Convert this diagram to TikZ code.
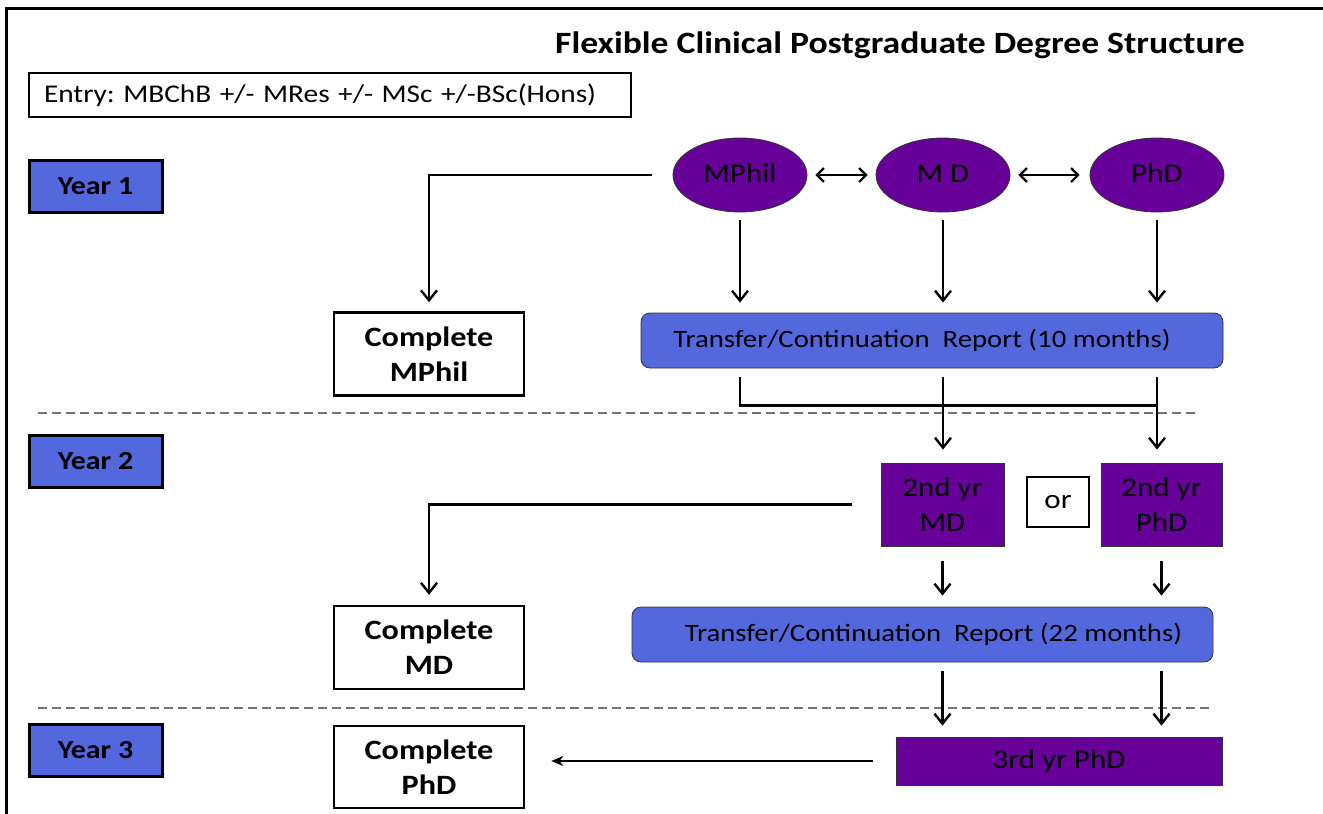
\documentclass[tikz,border=0pt]{standalone}
\usepackage{fontspec}
\setmainfont[FakeStretch=1.15]{Carlito}
\usetikzlibrary{arrows.meta,shapes.geometric,calc}
\definecolor{yblue}{RGB}{84,104,222}
\definecolor{dpurple}{RGB}{102,0,153}
\newcommand\fsz[2]{\fontsize{#1}{#2}\selectfont}
\frenchspacing
\begin{document}
\begin{tikzpicture}[x=1pt,y=-1pt,
  yearbox/.style={draw=black, line width=3pt, fill=yblue, minimum width=133, minimum height=52, inner sep=0pt, font=\fsz{26}{30}\bfseries},
  whitebox/.style={draw=black, line width=2.5pt, fill=white, minimum width=190, minimum height=83, inner sep=0pt, align=center, font=\fsz{28}{35}\bfseries},
  degree/.style={ellipse, draw=black!80, line width=0.8pt, fill=dpurple, minimum width=134, minimum height=74, inner sep=0pt, font=\fsz{27}{32}},
  report/.style={draw=black!80, line width=0.8pt, fill=yblue, rounded corners=9pt, minimum height=55, inner sep=0pt, font=\fsz{25}{30}},
  pbox/.style={draw=black!80, line width=0.8pt, fill=dpurple, inner sep=0pt, align=center, font=\fsz{27}{35}},
  line/.style={line width=2.4pt, draw=black},
  arr/.style={line width=2.4pt, draw=black, -{Straight Barb[length=10pt,width=16pt]}},
  darr/.style={line width=2.2pt, draw=black, {Straight Barb[length=7pt,width=14pt]}-{Straight Barb[length=7pt,width=14pt]}},
  arrs/.style={line width=2.2pt, draw=black, -{Stealth[length=12pt,width=10pt]}},
  dashline/.style={line width=1.6pt, draw=black!55, dash pattern=on 9pt off 5pt}
]
\useasboundingbox (0,0) rectangle (1323,814);
\fill[white] (0,0) rectangle (1323,814);
\draw[line width=3pt] (6,814) -- (6,8) -- (1323,8);

% title and entry
\node[font=\fsz{31}{36}\bfseries, inner sep=0pt] (title) at (900,45) {Flexible Clinical Postgraduate Degree Structure};
\node[draw=black, line width=2pt, text width=572pt, align=left, inner xsep=15pt, minimum height=44, inner ysep=0pt, font=\fsz{25.5}{30}] (entry) at (330,95) {Entry: MBChB +/- MRes +/- MSc +/-BSc(Hons)};

% year labels
\node[yearbox] (y1) at (95.5,186) {Year 1};
\node[yearbox] (y2) at (95.5,461) {Year 2};
\node[yearbox] (y3) at (95.5,750) {Year 3};

% dashed separators
\draw[dashline] (38,413) -- (1197,413);
\draw[dashline] (38,708) -- (1210,708);

% degrees
\node[degree] (mphil) at (740,175) {\raisebox{3pt}{MPhil}};
\node[degree] (md) at (943,175) {\raisebox{3pt}{M D}};
\node[degree] (phd) at (1157,175) {\raisebox{3pt}{PhD}};

% year 1 boxes
\node[report, minimum width=582] (tr1) at (932,340.5) {\raisebox{4pt}{Transfer/Continuation\ \ Report (10 months)}\hspace*{20pt}};
\node[whitebox] (cmphil) at (429,354) {Complete\\MPhil};

% year 2 boxes
\node[pbox, minimum width=123, minimum height=83] (md2) at (942.5,504.5) {2nd yr\\MD};
\node[draw=black, line width=2pt, fill=white, minimum width=62, minimum height=50, inner sep=0pt, font=\fsz{27}{32}] (or) at (1058,502) {or};
\node[pbox, minimum width=121, minimum height=83] (phd2) at (1161.5,504.5) {2nd yr\\PhD};
\node[report, minimum width=581] (tr2) at (922.5,634.5) {\hspace*{22pt}\raisebox{4pt}{Transfer/Continuation\ \ Report (22 months)}};
\node[whitebox] (cmd) at (429,647.5) {Complete\\MD};

% year 3 boxes
\node[pbox, minimum width=326, minimum height=48] (phd3) at (1059,761) {3rd yr PhD};
\node[whitebox, minimum height=82] (cphd) at (429,767) {Complete\\PhD};

% connectors year 1
\draw[darr] ([xshift=8pt]mphil.east) -- ([xshift=-8pt]md.west);
\draw[darr] ([xshift=8pt]md.east) -- ([xshift=-10pt]phd.west);
\draw[arr] ([xshift=-21pt]mphil.west) -| ([yshift=9pt]cmphil.north);
\draw[arr] ([yshift=-8pt]mphil.south) -- ([yshift=10pt]mphil.south |- tr1.north);
\draw[arr] ([yshift=-8pt]md.south) -- ([yshift=10pt]md.south |- tr1.north);
\draw[arr] ([yshift=-8pt]phd.south) -- ([yshift=10pt]phd.south |- tr1.north);

% from transfer 1 to year 2
\coordinate (a1) at ($(mphil.south |- tr1.south)+(0,9)$);
\coordinate (j1) at ($(mphil.south |- tr1.south)+(0,37)$);
\coordinate (j3) at ($(phd.south |- tr1.south)+(0,37)$);
\draw[line] (a1) -- (j1) -- (j3);
\draw[arr] ($(md.south |- tr1.south)+(0,9)$) -- ([yshift=13pt]md.south |- md2.north);
\draw[arr] ($(phd.south |- tr1.south)+(0,9)$) -- ([yshift=13pt]phd.south |- phd2.north);

% year 2 connectors
\draw[arr] ([xshift=-29pt]md2.west) -| ([yshift=10pt]cmd.north);
\draw[arr] ([yshift=-15pt]md2.south) -- ([yshift=11pt]md2.south |- tr2.north);
\draw[arr] ([yshift=-15pt]phd2.south) -- ([yshift=11pt]phd2.south |- tr2.north);
\draw[arr] ($(md2.south |- tr2.south)+(0,9)$) -- ([yshift=11pt]md2.south |- phd3.north);
\draw[arr] ($(phd2.south |- tr2.south)+(0,9)$) -- ([yshift=11pt]phd2.south |- phd3.north);

% year 3 connector
\draw[arrs] ([xshift=-23pt]phd3.west) -- ([xshift=26pt]cphd.east |- phd3.west);
\end{tikzpicture}
\end{document}
